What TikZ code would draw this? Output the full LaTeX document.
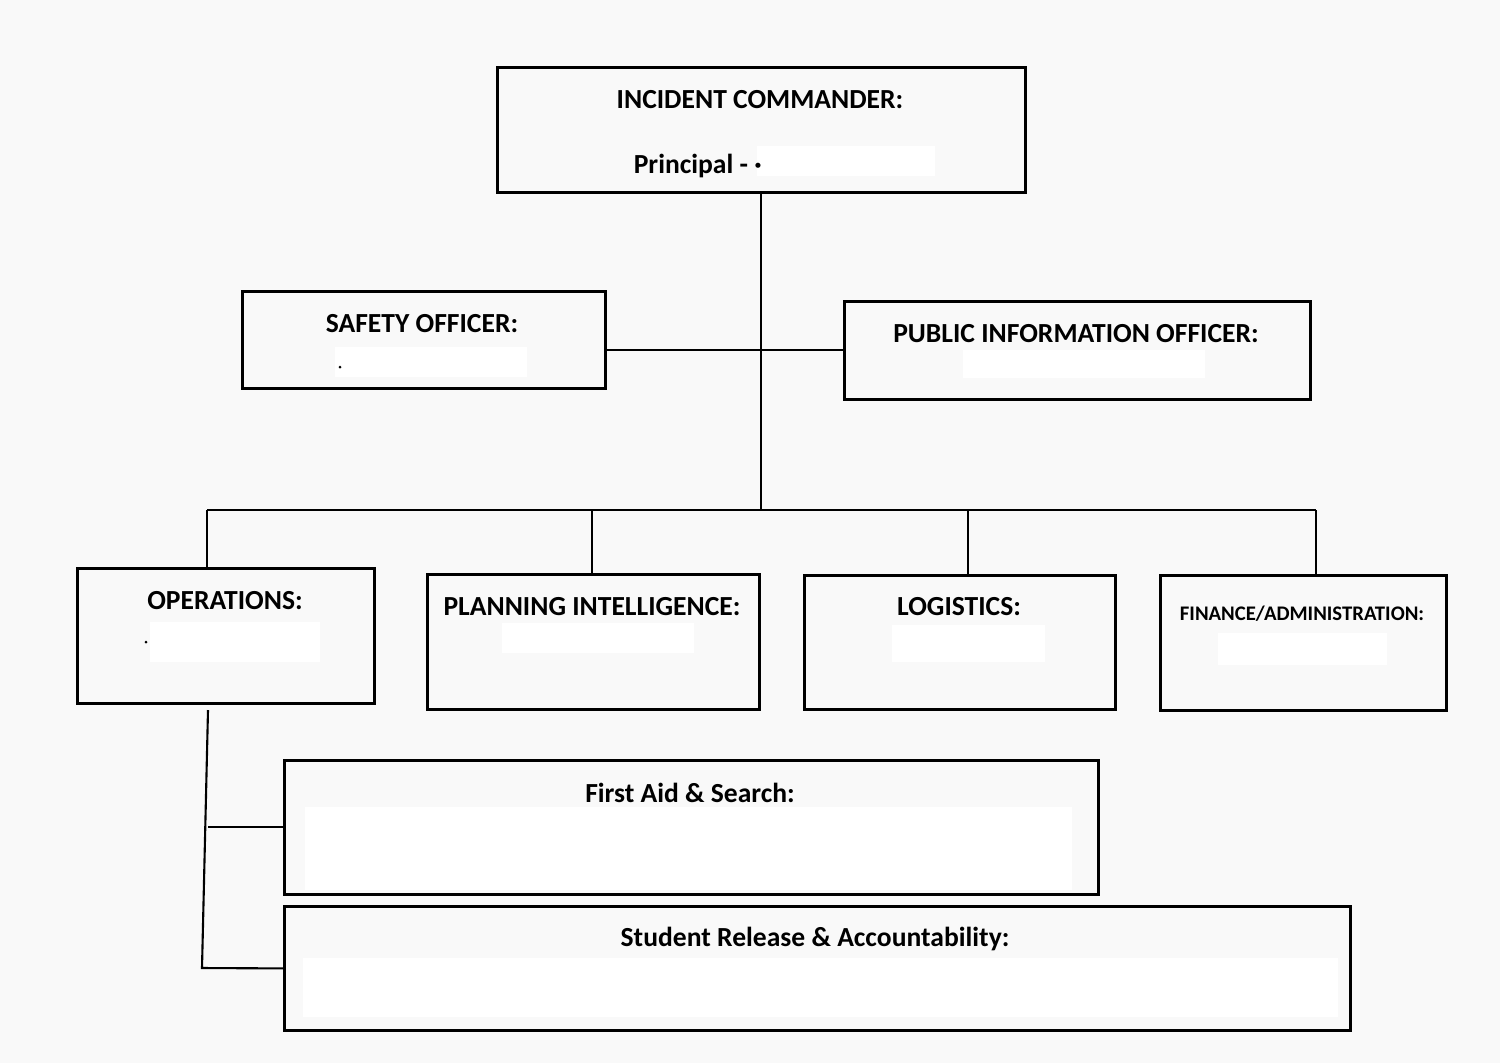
\documentclass[tikz,border=0pt]{standalone}
\usepackage{fontspec}
\setmainfont{Carlito}
\usetikzlibrary{positioning}
\definecolor{paper}{HTML}{F9F9F9}
\begin{document}
\begin{tikzpicture}[x=0.02cm,y=-0.02cm,
    box/.style={draw,line width=1.6pt,fill=paper,inner sep=0,anchor=north west},
    head/.style={font=\bfseries\fontsize{15.7}{18}\selectfont,inner sep=0},
    smallhead/.style={font=\bfseries\fontsize{11.8}{14}\selectfont,inner sep=0},
    wire/.style={line width=1.2pt}]
  \fill[paper] (0,0) rectangle (1500,1063);
  \useasboundingbox (0,0) rectangle (1500,1063);

  % boxes: name / left / top / right / bottom (pixels)
  \foreach \n/\xa/\ya/\xb/\yb in {ic/496/66/1024/191, safety/241/290/604/387,
      pio/843/300/1309/398, ops/76/567/373/702, plan/426/573/758/708,
      logi/803/574/1114/708, fin/1159/574/1445/709,
      firstaid/283/759/1097/893, student/283/905/1349/1029} {
    \node[box,minimum width={(\xb-\xa)*0.02cm},minimum height={(\yb-\ya)*0.02cm}]
      (\n) at (\xa,\ya) {};
  }

  % blanked-out names
  \foreach \xa/\ya/\xb/\yb in {757/146/935/176, 335/347/527/377, 963/350/1205/378,
      150/622/320/662, 502/623/694/653, 892/625/1045/662, 1218/633/1387/665,
      305/807/1072/890, 303/958/1338/1017} {
    \fill[white] (\xa,\ya) rectangle (\xb,\yb);
  }
  \fill (340,367) circle (1.5);
  \fill (146,642) circle (1.5);

  \node[head] (ic-t) at (760,100) {INCIDENT COMMANDER:};
  \node[head,anchor=east] (ic-n) at (762,166) {Principal - ·};
  \node[head] (safety-t) at (422,324) {SAFETY OFFICER:};
  \node[head] (pio-t) at (1076,334) {PUBLIC INFORMATION OFFICER:};
  \node[head] (ops-t) at (225,601) {OPERATIONS:};
  \node[head] (plan-t) at (592,607) {PLANNING INTELLIGENCE:};
  \node[head] (logi-t) at (959,607) {LOGISTICS:};
  \node[smallhead] (fin-t) at (1302,614) {FINANCE/ADMINISTRATION:};
  \node[head] (firstaid-t) at (690,793) {First Aid \& Search:};
  \node[head] (student-t) at (815,939) {Student Release \& Accountability:};

  % connectors
  \coordinate (bus) at (761,510);
  \draw[wire] (ic.south) -- (ic.south |- bus);
  \draw[wire] (safety.east |- pio.west) -- (pio.west);
  \draw[wire] (207,510) -- (1316,510);
  \foreach \x/\n in {207/ops, 592/plan, 968/logi, 1316/fin} {
    \draw[wire] (\x,510) -- (\x,510 |- \n.north);
  }

  \coordinate (o1) at (208,710);
  \coordinate (o2) at (202,968);
  \draw[wire] (o1) -- (o2) -- (student.west);
  \draw[wire] (firstaid.west) -- (firstaid.west -| o1);
\end{tikzpicture}
\end{document}
